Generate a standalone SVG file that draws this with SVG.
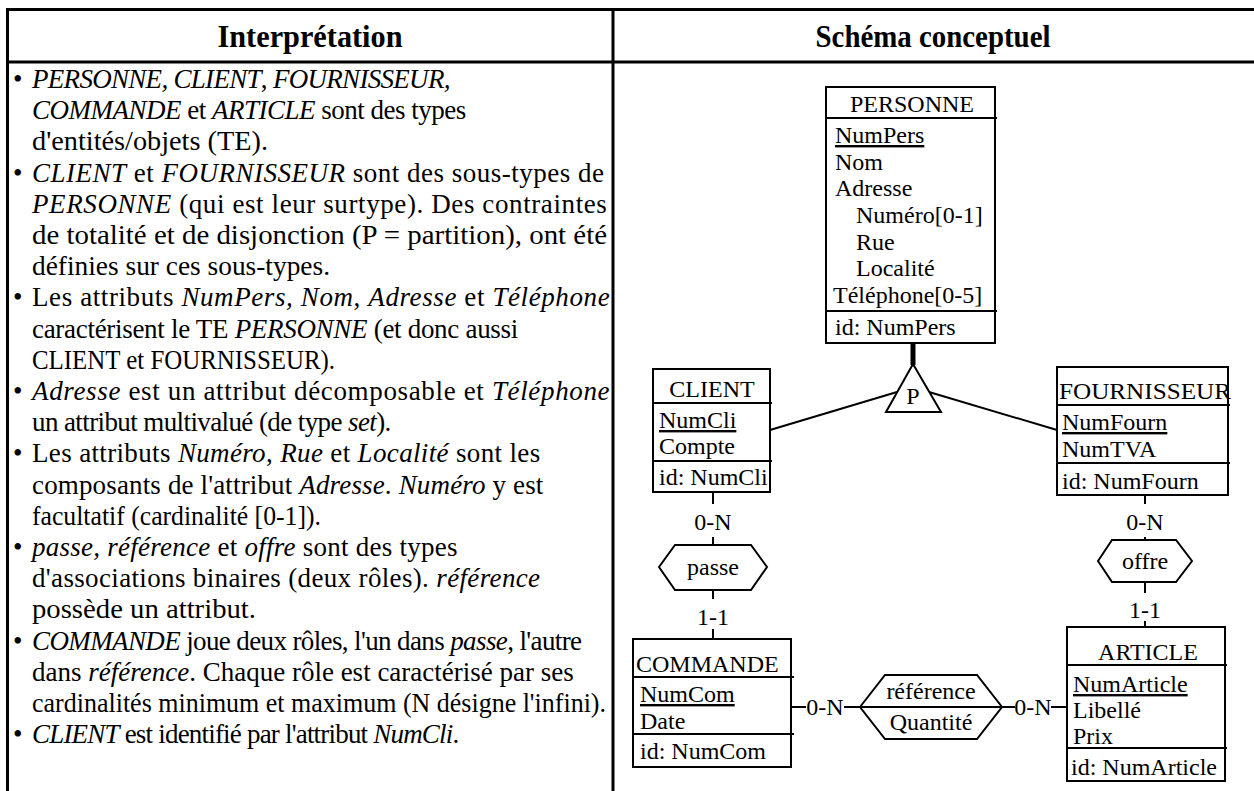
<svg xmlns="http://www.w3.org/2000/svg" width="1254" height="791" viewBox="0 0 1254 791">
<style>
  .frame{stroke:#000;stroke-width:3;fill:none}
  .hdr{font-family:"Liberation Serif","Times New Roman",serif;font-size:31px;font-weight:bold;fill:#000;text-anchor:middle}
  .body{font-family:"Liberation Serif","Times New Roman",serif;font-size:27px;fill:#000}
  .i{font-style:italic}
  .box{fill:#fff;stroke:#000;stroke-width:2}
  .sep{stroke:#000;stroke-width:2}
  .t{font-family:"Liberation Serif","Times New Roman",serif;font-size:24px;fill:#000}
  .c{text-anchor:middle}
  .u{text-decoration:underline;text-decoration-thickness:2px}
  .ln{stroke:#000;stroke-width:2;fill:none}
  .shape{fill:#fff;stroke:#000;stroke-width:2}
</style>

<g id="table">
  <path class="frame" d="M6,9.5 H1254 M6,62 H1254 M7.5,8 V791 M613,8 V791"/>
  <text class="hdr" x="310" y="47" textLength="185" lengthAdjust="spacingAndGlyphs">Interprétation</text>
  <text class="hdr" x="933" y="47" textLength="235" lengthAdjust="spacingAndGlyphs">Schéma conceptuel</text>
</g>

<g id="interpretation" class="body">
  <text x="13" y="88">•</text>
  <text x="32" y="88" letter-spacing="-0.7"><tspan class="i">PERSONNE, CLIENT</tspan>, <tspan class="i">FOURNISSEUR,</tspan></text>
  <text x="32" y="119.2" letter-spacing="-0.5"><tspan class="i">COMMANDE</tspan> et <tspan class="i">ARTICLE</tspan> sont des types</text>
  <text x="32" y="150.4" textLength="236" lengthAdjust="spacingAndGlyphs">d'entités/objets (TE).</text>
  <text x="13" y="181.6">•</text>
  <text x="32" y="181.6" letter-spacing="0.5"><tspan class="i">CLIENT</tspan> et <tspan class="i">FOURNISSEUR</tspan> sont des sous-types de</text>
  <text x="32" y="212.8" letter-spacing="0.6"><tspan class="i">PERSONNE</tspan> (qui est leur surtype). Des contraintes</text>
  <text x="32" y="244" textLength="575" lengthAdjust="spacingAndGlyphs">de totalité et de disjonction (P = partition), ont été</text>
  <text x="32" y="275.2" textLength="298" lengthAdjust="spacingAndGlyphs">définies sur ces sous-types.</text>
  <text x="13" y="306.4">•</text>
  <text x="32" y="306.4" letter-spacing="0.6">Les attributs <tspan class="i">NumPers, Nom</tspan>, <tspan class="i">Adresse</tspan> et <tspan class="i">Téléphone</tspan></text>
  <text x="32" y="337.6" letter-spacing="-0.3">caractérisent le TE <tspan class="i">PERSONNE</tspan> (et donc aussi</text>
  <text x="32" y="368.8" textLength="303" lengthAdjust="spacingAndGlyphs">CLIENT et FOURNISSEUR).</text>
  <text x="13" y="400">•</text>
  <text x="32" y="400" letter-spacing="0.65"><tspan class="i">Adresse</tspan> est un attribut décomposable et <tspan class="i">Téléphone</tspan></text>
  <text x="32" y="431.2" letter-spacing="-0.6">un attribut multivalué (de type <tspan class="i">set</tspan>).</text>
  <text x="13" y="462.4">•</text>
  <text x="32" y="462.4" letter-spacing="0.35">Les attributs <tspan class="i">Numéro</tspan>, <tspan class="i">Rue</tspan> et <tspan class="i">Localité</tspan> sont les</text>
  <text x="32" y="493.6" letter-spacing="0.15">composants de l'attribut <tspan class="i">Adresse</tspan>. <tspan class="i">Numéro</tspan> y est</text>
  <text x="32" y="524.8" textLength="289" lengthAdjust="spacingAndGlyphs">facultatif (cardinalité [0-1]).</text>
  <text x="13" y="556">•</text>
  <text x="32" y="556" letter-spacing="0.25"><tspan class="i">passe, référence</tspan> et <tspan class="i">offre</tspan> sont des types</text>
  <text x="32" y="587.2" letter-spacing="0.35">d'associations binaires (deux rôles). <tspan class="i">référence</tspan></text>
  <text x="32" y="618.4" textLength="224" lengthAdjust="spacingAndGlyphs">possède un attribut.</text>
  <text x="13" y="649.6">•</text>
  <text x="32" y="649.6" letter-spacing="-0.62"><tspan class="i">COMMANDE</tspan> joue deux rôles, l'un dans <tspan class="i">passe</tspan>, l'autre</text>
  <text x="32" y="680.8">dans <tspan class="i">référence</tspan>. Chaque rôle est caractérisé par ses</text>
  <text x="32" y="712" textLength="574" lengthAdjust="spacingAndGlyphs">cardinalités minimum et maximum (N désigne l'infini).</text>
  <text x="13" y="743.2">•</text>
  <text x="32" y="743.2" letter-spacing="-0.8"><tspan class="i">CLIENT</tspan> est identifié par l'attribut <tspan class="i">NumCli</tspan>.</text>
</g>

<g id="connectors">
  <line x1="913" y1="343" x2="913" y2="365" stroke="#000" stroke-width="5"/>
  <line class="ln" x1="770" y1="430" x2="897" y2="392"/>
  <line class="ln" x1="1057" y1="430" x2="929" y2="392"/>
  <line class="ln" x1="713" y1="492" x2="713" y2="504"/>
  <text class="t c" x="713" y="530">0-N</text>
  <line class="ln" x1="713" y1="537" x2="713" y2="545"/>
  <line class="ln" x1="713" y1="590" x2="713" y2="599"/>
  <text class="t c" x="713" y="625">1-1</text>
  <line class="ln" x1="713" y1="629" x2="713" y2="639"/>
  <line class="ln" x1="1145" y1="495" x2="1145" y2="504"/>
  <text class="t c" x="1145" y="530">0-N</text>
  <line class="ln" x1="1145" y1="537" x2="1145" y2="540"/>
  <line class="ln" x1="1145" y1="582" x2="1145" y2="593"/>
  <text class="t c" x="1145" y="618">1-1</text>
  <line class="ln" x1="1145" y1="621" x2="1145" y2="627"/>
  <line class="ln" x1="791" y1="707" x2="806" y2="707"/>
  <text class="t c" x="825" y="715">0-N</text>
  <line class="ln" x1="844" y1="707" x2="860" y2="707"/>
  <line class="ln" x1="1002" y1="707" x2="1015" y2="707"/>
  <text class="t c" x="1033" y="715">0-N</text>
  <line class="ln" x1="1051" y1="707" x2="1067" y2="707"/>
</g>

<g id="partition">
  <polygon class="shape" points="913,364 886,412 941,412"/>
  <text class="t c" x="913" y="404">P</text>
</g>

<g id="personne">
  <rect class="box" x="826" y="87" width="169" height="256"/>
  <text class="t c" x="912" y="112">PERSONNE</text>
  <line class="sep" x1="826" y1="118" x2="997" y2="118"/>
  <text class="t u" x="835" y="143">NumPers</text>
  <text class="t" x="835" y="170">Nom</text>
  <text class="t" x="835" y="196">Adresse</text>
  <text class="t" x="856" y="223">Numéro[0-1]</text>
  <text class="t" x="856" y="250">Rue</text>
  <text class="t" x="856" y="276">Localité</text>
  <text class="t" x="833" y="303">Téléphone[0-5]</text>
  <line class="sep" x1="826" y1="311" x2="997" y2="311"/>
  <text class="t" x="835" y="335">id: NumPers</text>
</g>

<g id="client">
  <rect class="box" x="653" y="369" width="117" height="123"/>
  <text class="t c" x="712" y="397">CLIENT</text>
  <line class="sep" x1="653" y1="403" x2="772" y2="403"/>
  <text class="t u" x="659" y="428">NumCli</text>
  <text class="t" x="659" y="454">Compte</text>
  <line class="sep" x1="653" y1="461" x2="772" y2="461"/>
  <text class="t" x="659" y="485">id: NumCli</text>
</g>

<g id="fournisseur">
  <rect class="box" x="1057" y="367" width="171" height="128"/>
  <text class="t" x="1059" y="399" textLength="172" lengthAdjust="spacingAndGlyphs">FOURNISSEUR</text>
  <line class="sep" x1="1057" y1="405" x2="1230" y2="405"/>
  <text class="t u" x="1062" y="430">NumFourn</text>
  <text class="t" x="1062" y="457">NumTVA</text>
  <line class="sep" x1="1057" y1="463" x2="1230" y2="463"/>
  <text class="t" x="1062" y="489">id: NumFourn</text>
</g>

<g id="passe">
  <polygon class="shape" points="659,567 675,545 751,545 767,567 751,590 675,590"/>
  <text class="t c" x="713" y="575">passe</text>
</g>

<g id="offre">
  <polygon class="shape" points="1098,561 1112,540 1176,540 1192,561 1176,582 1112,582"/>
  <text class="t c" x="1145" y="569">offre</text>
</g>

<g id="reference">
  <polygon class="shape" points="860,707 885,675 977,675 1002,707 977,739 885,739"/>
  <line class="sep" x1="860" y1="707" x2="1002" y2="707"/>
  <text class="t c" x="931" y="699">référence</text>
  <text class="t c" x="931" y="730">Quantité</text>
</g>

<g id="commande">
  <rect class="box" x="633" y="639" width="158" height="128"/>
  <text class="t" x="636" y="672">COMMANDE</text>
  <line class="sep" x1="633" y1="677" x2="794" y2="677"/>
  <text class="t u" x="640" y="702">NumCom</text>
  <text class="t" x="640" y="729">Date</text>
  <line class="sep" x1="633" y1="734" x2="794" y2="734"/>
  <text class="t" x="640" y="759">id: NumCom</text>
</g>

<g id="article">
  <rect class="box" x="1067" y="627" width="158" height="154"/>
  <text class="t c" x="1148" y="660">ARTICLE</text>
  <line class="sep" x1="1067" y1="665" x2="1227" y2="665"/>
  <text class="t u" x="1073" y="692">NumArticle</text>
  <text class="t" x="1073" y="718">Libellé</text>
  <text class="t" x="1073" y="744">Prix</text>
  <line class="sep" x1="1067" y1="748" x2="1227" y2="748"/>
  <text class="t" x="1071" y="775">id: NumArticle</text>
</g>
</svg>
